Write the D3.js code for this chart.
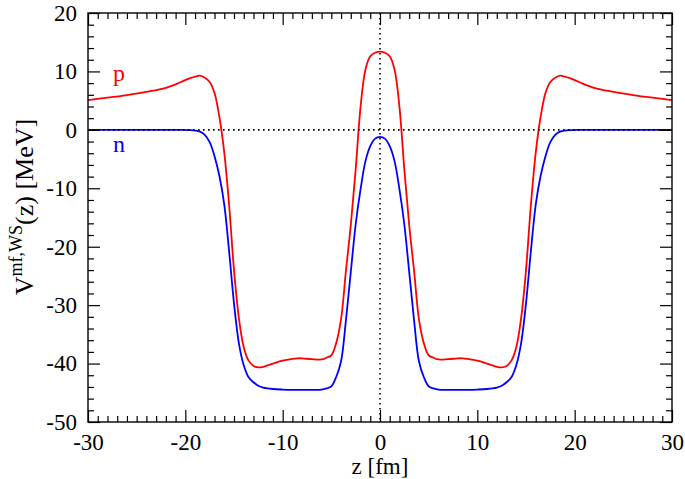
<!DOCTYPE html>
<html><head><meta charset="utf-8">
<script src="https://cdn.jsdelivr.net/npm/d3@7"></script>
<style>body{margin:0;background:#fff}</style>
</head><body><svg id="c" width="685" height="479"></svg>
<script>
const zValues = [-30,-28,-26,-24,-22,-20.5,-19.5,-19,-18.5,-18,-17.5,-17,-16.5,-16,-15.5,-15,-14.5,-14,-13.5,-13,-12.5,-12,-11,-10,-9,-8.5,-8,-7,-6,-5.5,-5,-4.5,-4,-3.5,-3,-2.5,-2,-1.5,-1,-0.5,0,
  0.5,1,1.5,2,2.5,3,3.5,4,4.5,5,5.5,6,7,8,8.5,9,10,11,12,12.5,13,13.5,14,14.5,15,15.5,16,16.5,17,17.5,18,18.5,19,19.5,20.5,22,24,26,28,30];
const pValues = [5.1,5.5,5.95,6.5,7.2,8.15,8.85,9.12,9.27,8.9,8.2,6.3,2.2,-3.9,-12.9,-24.0,-32.2,-37.2,-39.5,-40.4,-40.65,-40.55,-40.0,-39.5,-39.2,-39.1,-39.1,-39.25,-39.3,-39.0,-38.6,-36.5,-32.4,-24.1,-16.3,-6.8,3.9,10.3,12.6,13.2,13.4,
  13.2,12.6,10.3,3.9,-6.8,-16.3,-24.1,-32.4,-36.5,-38.6,-39.0,-39.3,-39.25,-39.1,-39.1,-39.2,-39.5,-40.0,-40.55,-40.65,-40.4,-39.5,-37.2,-32.2,-24.0,-12.9,-3.9,2.2,6.3,8.2,8.9,9.27,9.12,8.85,8.15,7.2,6.5,5.95,5.5,5.1];
const nValues = [0,0,0,0,0,-0.01,-0.05,-0.12,-0.3,-0.85,-2.1,-4.5,-7.9,-12.8,-20.8,-29.7,-36.5,-40.3,-42.35,-43.2,-43.8,-44.1,-44.35,-44.45,-44.5,-44.5,-44.5,-44.5,-44.45,-44.25,-43.9,-42.3,-39.6,-32.6,-24.3,-16.2,-10.2,-5.4,-2.8,-1.5,-1.2,
  -1.5,-2.8,-5.4,-10.2,-16.2,-24.3,-32.6,-39.6,-42.3,-43.9,-44.25,-44.45,-44.5,-44.5,-44.5,-44.5,-44.45,-44.35,-44.1,-43.8,-43.2,-42.35,-40.3,-36.5,-29.7,-20.8,-12.8,-7.9,-4.5,-2.1,-0.85,-0.3,-0.12,-0.05,-0.01,0,0,0,0,0];
const xTicks = [-30,-20,-10,0,10,20,30];
const yTicks = [-50,-40,-30,-20,-10,0,10,20];
const seriesNames = ["p","n"];
const seriesColors = ["#ff0000","#0000ff"];

const svg = d3.select("#c");
const L=88, R=672, T=13, B=422;
const x = d3.scaleLinear().domain([-30,30]).range([L,R]);
const y = d3.scaleLinear().domain([-50,20]).range([B,T]);
const font = "'Liberation Serif','Times New Roman',serif";

const line = d3.line().x((d,i)=>x(zValues[i])).y(d=>y(d)).curve(d3.curveCatmullRom.alpha(0.5));
svg.append("clipPath").attr("id","pc").append("rect").attr("x",L).attr("y",T).attr("width",R-L).attr("height",B-T);
const g = svg.append("g").attr("clip-path","url(#pc)");
[pValues,nValues].forEach((vals,k)=>{
  g.append("path").attr("d",line(vals)).attr("fill","none").attr("stroke",seriesColors[k]).attr("stroke-width",1.8);
});
svg.append("line").attr("x1",L).attr("x2",R).attr("y1",y(0)).attr("y2",y(0)).attr("stroke","#000").attr("stroke-width",1.6).attr("stroke-dasharray","1.6,3.4");
svg.append("line").attr("x1",x(0)).attr("x2",x(0)).attr("y1",T).attr("y2",B).attr("stroke","#000").attr("stroke-width",1.6).attr("stroke-dasharray","1.6,3.4");

function tickSet(axisGen, tr){
  return svg.append("g").attr("transform",tr).call(axisGen);
}
const xMinor = d3.range(-30,31,1).filter(v=>!xTicks.includes(v));
const yMinor = d3.range(-50,21,2).filter(v=>!yTicks.includes(v));
const styleAxis = s=>{ s.select(".domain").remove(); s.selectAll("line").attr("stroke","#000").attr("stroke-width",1.2); };
tickSet(d3.axisBottom(x).tickValues(xTicks).tickSize(-12).tickFormat(d=>d).tickPadding(12),`translate(0,${B})`).call(styleAxis)
  .selectAll("text").attr("font-family",font).attr("font-size",23).attr("fill","#000");
tickSet(d3.axisBottom(x).tickValues(xMinor).tickSize(-6).tickFormat(""),`translate(0,${B})`).call(styleAxis);
tickSet(d3.axisTop(x).tickValues(xTicks).tickSize(-12).tickFormat(""),`translate(0,${T})`).call(styleAxis);
tickSet(d3.axisTop(x).tickValues(xMinor).tickSize(-6).tickFormat(""),`translate(0,${T})`).call(styleAxis);
tickSet(d3.axisLeft(y).tickValues(yTicks).tickSize(-12).tickFormat(d=>d).tickPadding(11),`translate(${L},0)`).call(styleAxis)
  .selectAll("text").attr("font-family",font).attr("font-size",23).attr("fill","#000");
tickSet(d3.axisLeft(y).tickValues(yMinor).tickSize(-6).tickFormat(""),`translate(${L},0)`).call(styleAxis);
tickSet(d3.axisRight(y).tickValues(yTicks).tickSize(-12).tickFormat(""),`translate(${R},0)`).call(styleAxis);
tickSet(d3.axisRight(y).tickValues(yMinor).tickSize(-6).tickFormat(""),`translate(${R},0)`).call(styleAxis);

svg.append("rect").attr("x",L).attr("y",T).attr("width",R-L).attr("height",B-T).attr("fill","none").attr("stroke","#000").attr("stroke-width",1.4);

svg.append("text").attr("x",113).attr("y",81).attr("font-family",font).attr("font-size",24).attr("fill",seriesColors[0]).text(seriesNames[0]);
svg.append("text").attr("x",113).attr("y",152).attr("font-family",font).attr("font-size",24).attr("fill",seriesColors[1]).text(seriesNames[1]);

svg.append("text").attr("x",(L+R)/2).attr("y",474).attr("text-anchor","middle").attr("font-family",font).attr("font-size",23).text("z [fm]");
const yl = svg.append("text").attr("transform",`translate(33,207) rotate(-90)`).attr("text-anchor","middle").attr("font-family",font).attr("font-size",26);
yl.append("tspan").text("V");
yl.append("tspan").attr("font-size",18).attr("dy",-11).text("mf,WS");
yl.append("tspan").attr("dy",11).text("(z) [MeV]");
</script></body></html>
